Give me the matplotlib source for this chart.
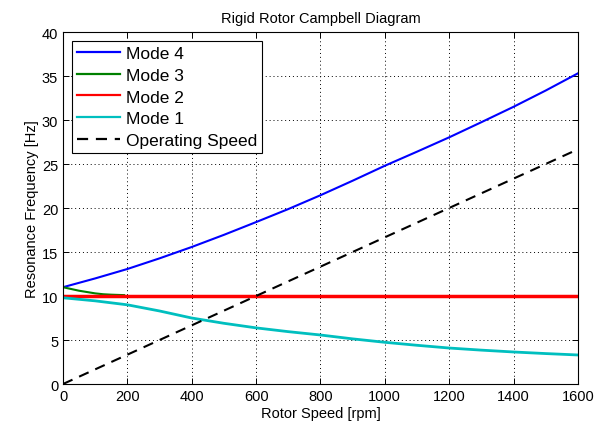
import matplotlib
matplotlib.use("Agg")
import matplotlib.pyplot as plt
import numpy as np

plt.rcParams['font.family'] = ['Liberation Sans', 'DejaVu Sans']

# Data
rpm4 = [0, 100, 200, 300, 400, 500, 600, 700, 800, 900, 1000, 1100, 1200, 1300, 1400, 1500, 1600]
mode4 = [11.0, 12.0, 13.07, 14.28, 15.57, 16.95, 18.4, 19.88, 21.45, 23.1, 24.8, 26.4, 28.03, 29.75, 31.5, 33.35, 35.3]
rpm3 = [0, 25, 50, 75, 100, 125, 150, 190]
mode3 = [11.0, 10.8, 10.6, 10.45, 10.3, 10.2, 10.15, 10.1]
rpm2 = [0, 1600]
mode2 = [9.95, 9.95]
rpm1 = [0, 100, 200, 300, 400, 500, 600, 700, 800, 900, 1000, 1100, 1200, 1300, 1400, 1500, 1600]
mode1 = [9.8, 9.45, 9.0, 8.3, 7.5, 6.9, 6.38, 5.95, 5.57, 5.13, 4.74, 4.4, 4.09, 3.85, 3.64, 3.46, 3.3]
rpm_op = [0, 1600]
op_speed = [0.0, 26.67]

fig = plt.figure(figsize=(6.07, 4.31), dpi=100)
ax = fig.add_axes([0.1038, 0.1067, 0.8482, 0.8167])

ax.plot(rpm4, mode4, color='#0000ff', lw=1.5, label='Mode 4')
ax.plot(rpm3, mode3, color='#008000', lw=1.5, label='Mode 3')
ax.plot(rpm2, mode2, color='#ff0000', lw=2.5, label='Mode 2')
ax.plot(rpm1, mode1, color='#00bfbf', lw=2.0, label='Mode 1')
ax.plot(rpm_op, op_speed, color='black', lw=1.5, ls=(0, (5, 3.5)), label='Operating Speed')

ax.set_xlim(0, 1600)
ax.set_ylim(0, 40)
ax.set_xticks(np.arange(0, 1601, 200))
ax.set_yticks(np.arange(0, 41, 5))
ax.grid(True, color='black', ls=(0, (1, 3)), lw=0.7)
ax.tick_params(direction='in', top=True, right=True, labelsize=10.5, length=4, width=0.7)
for s in ax.spines.values():
    s.set_linewidth(0.8)

ax.set_xlabel('Rotor Speed [rpm]', fontsize=10.5, labelpad=2)
ax.set_ylabel('Resonance Frequency [Hz]', fontsize=10.5, labelpad=2)
ax.set_title('Rigid Rotor Campbell Diagram', fontsize=10.5, pad=7)

leg = ax.legend(loc='upper left', fontsize=12.5, fancybox=False, framealpha=1,
                edgecolor='black', borderaxespad=0.5, handlelength=2.5,
                labelspacing=0.38, handletextpad=0.3, borderpad=0.3)
leg.get_frame().set_linewidth(0.8)
for h in leg.get_lines():
    h.set_linewidth(1.6)

fig.savefig('out.png', dpi=100)
